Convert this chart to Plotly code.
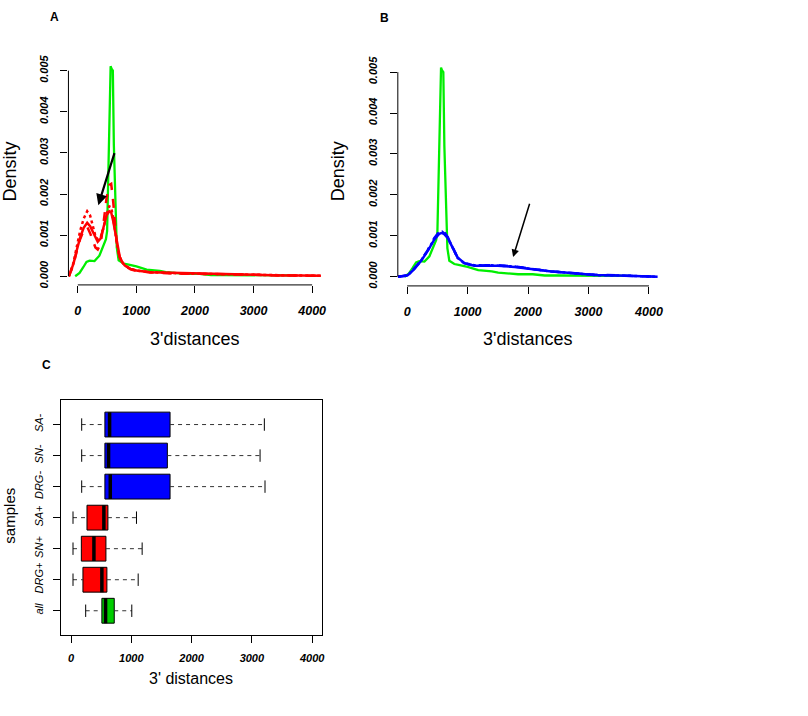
import plotly.graph_objects as go

# density curves (x in bp, y density)
green_x = [-45, 30, 93, 148, 200, 285, 368, 420, 450, 480, 500, 516, 532, 548, 560, 575, 598, 615, 631,
           645, 653, 665, 697, 740, 780, 850, 1000, 1175, 1274, 1400, 1505, 1700, 1835, 2077, 2275, 2500,
           2870, 3200, 3500, 3700]
green_all = [0, 0.00008, 0.00022, 0.00035, 0.00038, 0.00037, 0.0005, 0.0007, 0.00079, 0.0009, 0.0011,
             0.00225, 0.0034, 0.0042, 0.00511, 0.00505, 0.005, 0.0032, 0.0024, 0.0019, 0.00095, 0.0007,
             0.00039, 0.00034, 0.00031, 0.00029, 0.00024, 0.00016, 0.00015, 0.00013, 0.0001, 0.00008,
             0.00006, 0.00006, 0.00003, 0.00003, 0.00003, 0.00002, 0.00002, 0.00002]

red_x = [-153, -75, -20, 39, 100, 160, 210, 265, 300, 340, 390, 435, 490, 537, 570, 605, 635, 662, 690,
         718, 760, 803, 900, 1002, 1228, 1500, 1700, 2080, 2500, 2870, 3490, 3800, 4150]
drg_pos = [0, 0.0003, 0.00062, 0.00094, 0.00118, 0.0013, 0.00122, 0.00106, 0.00092, 0.00084, 0.00092,
           0.00118, 0.00148, 0.00158, 0.00155, 0.00134, 0.0011, 0.00086, 0.0006, 0.00046, 0.00034,
           0.00026, 0.00018, 0.00014, 0.0001, 0.00009, 0.00007, 0.00006, 0.00005, 0.00004, 0.00002,
           0.00002, 0.00001]
sn_pos = [0, 0.00028, 0.0006, 0.0009, 0.00112, 0.0012, 0.00105, 0.00082, 0.0007, 0.00065, 0.0008,
          0.00125, 0.0019, 0.00222, 0.00225, 0.0018, 0.0012, 0.00085, 0.0006, 0.00045, 0.00033, 0.00025,
          0.00017, 0.00013, 0.0001, 0.00008, 0.00006, 0.00006, 0.00004, 0.00004, 0.00002, 0.00002, 0.00001]
sa_pos = [0, 0.00032, 0.0007, 0.0011, 0.0014, 0.00158, 0.00148, 0.00118, 0.00098, 0.0009, 0.00095,
          0.00115, 0.0015, 0.0017, 0.00168, 0.0014, 0.0011, 0.00085, 0.0006, 0.00046, 0.00034, 0.00026,
          0.00018, 0.00014, 0.0001, 0.00009, 0.00007, 0.00006, 0.00005, 0.00004, 0.00002, 0.00002, 0.00001]

blue_x = [-155, 0, 38, 120, 231, 340, 450, 532, 577, 620, 670, 752, 834, 945, 1110, 1340, 1500, 1780,
          2054, 2384, 2714, 3099, 3500, 3813, 4143]
drg_neg = [0, 0.00003, 0.00007, 0.00019, 0.00039, 0.00063, 0.00091, 0.00105, 0.00107, 0.00103, 0.00095,
           0.00071, 0.00047, 0.00033, 0.00027, 0.00027, 0.00027, 0.00024, 0.00019, 0.00013, 0.00009,
           0.00004, 0.00003, 0.00002, 0]
sn_neg = [0, 0.00003, 0.00007, 0.0002, 0.0004, 0.00065, 0.00095, 0.0011, 0.00116, 0.00108, 0.00097,
          0.00072, 0.00047, 0.00033, 0.00027, 0.00028, 0.00028, 0.00025, 0.0002, 0.00013, 0.00009,
          0.00005, 0.00003, 0.00002, 0]
sa_neg = [0, 0.00003, 0.00008, 0.0002, 0.0004, 0.00064, 0.00093, 0.00107, 0.0011, 0.00105, 0.00096,
          0.00071, 0.00046, 0.00033, 0.00028, 0.00028, 0.00027, 0.00025, 0.00019, 0.00013, 0.00009,
          0.00004, 0.00003, 0.00002, 0]

# boxplot summaries (panel C), bottom to top
samples = ['all', 'DRG+', 'SN+', 'SA+', 'DRG-', 'SN-', 'SA-']
whisk_lo = [243, 33, 33, 33, 177, 177, 177]
q1 = [512, 198, 171, 265, 562, 562, 562]
med = [573, 512, 380, 545, 651, 623, 640]
q3 = [717, 595, 579, 612, 1643, 1598, 1643]
whisk_hi = [1008, 1114, 1180, 1086, 3218, 3136, 3207]
box_cols = ['#00CD00', '#FF0000', '#FF0000', '#FF0000', '#0000FF', '#0000FF', '#0000FF']

x_ticks = [0, 1000, 2000, 3000, 4000]
d_ticks = [0, 0.001, 0.002, 0.003, 0.004, 0.005]
d_text = ['0.000', '0.001', '0.002', '0.003', '0.004', '0.005']

GREEN = '#00EE00'
tickfont = dict(family='Liberation Sans', size=12.5, color='black', weight='bold', style='italic')

fig = go.Figure()

# panel A
fig.add_trace(go.Scatter(x=green_x, y=green_all, mode='lines', line=dict(color=GREEN, width=2.3),
                         xaxis='x', yaxis='y'))
for ys, dash in [(drg_pos, 'solid'), (sn_pos, 'dash'), (sa_pos, 'dot')]:
    fig.add_trace(go.Scatter(x=red_x, y=ys, mode='lines', line=dict(color='#FF0000', width=2.5, dash=dash),
                             xaxis='x', yaxis='y'))
# panel B
fig.add_trace(go.Scatter(x=green_x, y=green_all, mode='lines', line=dict(color=GREEN, width=2.3),
                         xaxis='x2', yaxis='y2'))
for ys, dash in [(drg_neg, 'solid'), (sn_neg, 'dash'), (sa_neg, 'dot')]:
    fig.add_trace(go.Scatter(x=blue_x, y=ys, mode='lines', line=dict(color='#0000FF', width=2.5, dash=dash),
                             xaxis='x2', yaxis='y2'))

# panel C boxes
pos = list(range(1, len(samples) + 1))
fig.add_trace(go.Bar(y=pos, x=[b - a for a, b in zip(q1, q3)], base=q1, orientation='h', width=0.8,
                     marker=dict(color=box_cols, line=dict(color='black', width=1)),
                     xaxis='x3', yaxis='y3'))
wx, wy, cx, cy, mx, my = [], [], [], [], [], []
for p, lo, a, m, b, hi in zip(pos, whisk_lo, q1, med, q3, whisk_hi):
    wx += [lo, a, None, b, hi, None]
    wy += [p, p, None, p, p, None]
    cx += [lo, lo, None, hi, hi, None]
    cy += [p - 0.2, p + 0.2, None, p - 0.2, p + 0.2, None]
    mx += [m, m, None]
    my += [p - 0.4, p + 0.4, None]
fig.add_trace(go.Scatter(x=wx, y=wy, mode='lines', line=dict(color='#333333', width=1, dash='4px,4px'),
                         xaxis='x3', yaxis='y3'))
fig.add_trace(go.Scatter(x=cx, y=cy, mode='lines', line=dict(color='black', width=1),
                         xaxis='x3', yaxis='y3'))
fig.add_trace(go.Scatter(x=mx, y=my, mode='lines', line=dict(color='black', width=3.5),
                         xaxis='x3', yaxis='y3'))

W, H = 808, 716


def dom_x(a, b):
    return [a / W, b / W]


def dom_y(top, bottom):
    return [1 - bottom / H, 1 - top / H]


ax_common = dict(showgrid=False, zeroline=False, showline=False, ticks='outside', ticklen=7,
                 tickwidth=1, tickcolor='black', tickfont=tickfont, fixedrange=True)

fig.update_layout(
    width=W, height=H, margin=dict(l=0, r=0, t=0, b=0),
    paper_bgcolor='white', plot_bgcolor='white', showlegend=False,
    xaxis=dict(ax_common, domain=dom_x(68.7, 332.7), range=[-160, 4330], anchor='y',
               tickvals=x_ticks, ticklabelstandoff=7),
    yaxis=dict(ax_common, domain=dom_y(55, 284.3), range=[-0.00021, 0.00532], anchor='x',
               tickvals=d_ticks, ticktext=d_text, tickangle=-90, tickfont=dict(tickfont, size=11),
               ticklabelstandoff=8),
    xaxis2=dict(ax_common, domain=dom_x(399.3, 671.4), range=[-155, 4330], anchor='y2',
                tickvals=x_ticks, ticklabelstandoff=7),
    yaxis2=dict(ax_common, domain=dom_y(56.5, 285.3), range=[-0.000225, 0.00532], anchor='x2',
                tickvals=d_ticks, ticktext=d_text, tickangle=-90, tickfont=dict(tickfont, size=11),
                ticklabelstandoff=8),
    xaxis3=dict(ax_common, domain=dom_x(61.3, 323.3), range=[-165, 4165], anchor='y3',
                tickvals=x_ticks, tickfont=dict(tickfont, size=11), ticklabelstandoff=6,
                showline=True, mirror=True, linecolor='black', linewidth=1),
    yaxis3=dict(ax_common, domain=dom_y(400.7, 637.3), range=[0.22, 7.78], anchor='x3',
                tickvals=pos, ticktext=samples, tickangle=-90,
                tickfont=dict(tickfont, size=11, weight='normal'),
                ticklabelstandoff=6, showline=True, mirror=True, linecolor='black', linewidth=1),
)

# R style axis lines spanning first to last tick only
line = dict(color='black', width=1)
for xr, yr in [('x', 'y'), ('x2', 'y2')]:
    fig.add_shape(type='line', xref=xr, yref=yr + ' domain', x0=0, x1=4000, y0=0, y1=0, line=line)
    fig.add_shape(type='line', xref=xr + ' domain', yref=yr, x0=0, x1=0, y0=0, y1=0.005, line=line)

# arrows
fig.add_annotation(xref='x', yref='y', axref='x', ayref='y', x=350, y=0.00173, ax=633, ay=0.00303,
                   showarrow=True, arrowhead=2, arrowsize=1, arrowwidth=2.2, arrowcolor='black', text='')
fig.add_annotation(xref='x2', yref='y2', axref='x2', ayref='y2', x=1752, y=0.00048, ax=2033, ay=0.00182,
                   showarrow=True, arrowhead=2, arrowsize=1, arrowwidth=1.5, arrowcolor='black', text='')

title_font = dict(family='Liberation Sans', size=18, color='black')
texts = [
    ('A', 55, 14.3, 0, dict(family='Liberation Sans', size=12, color='black', weight='bold')),
    ('B', 386, 15, 0, dict(family='Liberation Sans', size=12, color='black', weight='bold')),
    ('C', 46.7, 365, 0, dict(family='Liberation Sans', size=12, color='black', weight='bold')),
    ('Density', 10, 170, -90, title_font),
    ('Density', 339, 170, -90, title_font),
    ("3'distances", 196, 339, 0, title_font),
    ("3'distances", 530, 339, 0, title_font),
    ('samples', 10, 517, -90, dict(title_font, size=15)),
    ("3' distances", 191.7, 681.7, 0, dict(title_font, size=16)),
]
for t, px, py, ang, f in texts:
    fig.add_annotation(xref='paper', yref='paper', x=px / W, y=1 - py / H, text=t, showarrow=False,
                       textangle=ang, font=f, xanchor='center', yanchor='middle')

fig.write_html("out.html", config={'displayModeBar': False},
               post_script="document.body.style.margin='0';")
